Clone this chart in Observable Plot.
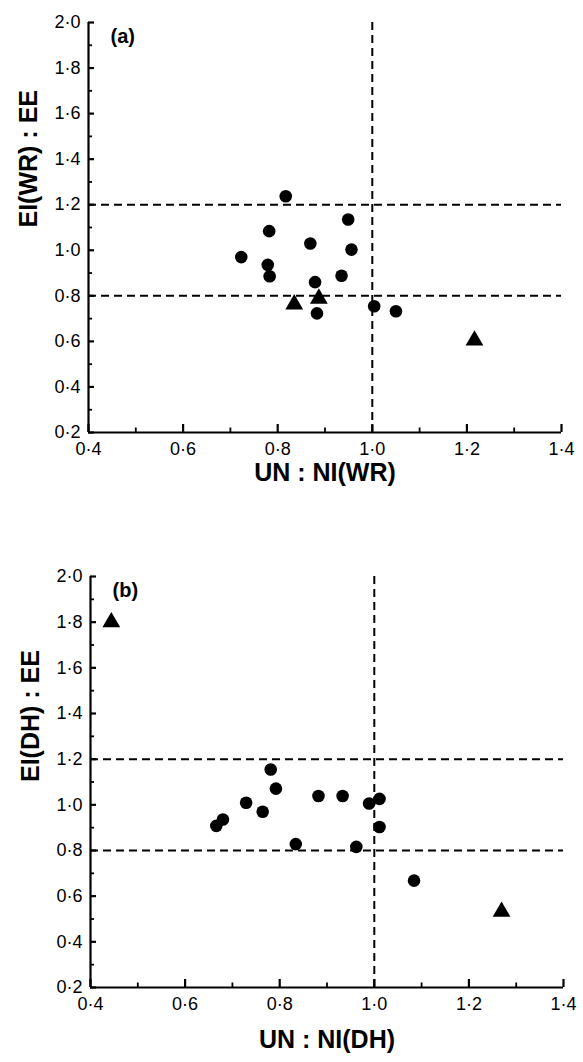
<!DOCTYPE html>
<html>
<head>
<meta charset="utf-8">
<script src="https://cdn.jsdelivr.net/npm/d3@7"></script>
<script src="https://cdn.jsdelivr.net/npm/@observablehq/plot@0.6"></script>
<style>
  body { margin: 0; background: #fff; }
  #chart { width: 583px; }
  #chart svg { display: block; }
</style>
</head>
<body>
<div id="chart"></div>
<script>
// Panel (a): UN:NI(WR) against EI(WR):EE
const wrCircleX = [0.817, 0.949, 0.782, 0.869, 0.956, 0.723, 0.779, 0.783, 0.935, 0.879, 0.883, 1.004, 1.050];
const wrCircleY = [1.237, 1.135, 1.084, 1.030, 1.003, 0.970, 0.936, 0.886, 0.888, 0.860, 0.723, 0.754, 0.732];
const wrTriangleX = [0.835, 0.887, 1.216];
const wrTriangleY = [0.763, 0.788, 0.604];

// Panel (b): UN:NI(DH) against EI(DH):EE
const dhCircleX = [0.781, 0.792, 0.729, 0.764, 0.680, 0.666, 0.882, 0.933, 0.989, 1.011, 1.011, 0.834, 0.962, 1.084];
const dhCircleY = [1.155, 1.071, 1.009, 0.970, 0.936, 0.908, 1.039, 1.039, 1.006, 1.026, 0.903, 0.828, 0.816, 0.668];
const dhTriangleX = [0.444, 1.269];
const dhTriangleY = [1.800, 0.532];

// Axes and reference lines
const xDomain = [0.4, 1.4];
const yDomain = [0.2, 2.0];
const xTicks = [0.4, 0.6, 0.8, 1.0, 1.2, 1.4];
const xMinorTicks = [0.5, 0.7, 0.9, 1.1, 1.3];
const yTicks = [0.2, 0.4, 0.6, 0.8, 1.0, 1.2, 1.4, 1.6, 1.8, 2.0];
const yMinorTicks = [0.3, 0.5, 0.7, 0.9, 1.1, 1.3, 1.5, 1.7, 1.9];
const refY = [0.8, 1.2];
const refX = [1.0];

const fmt = d => d.toFixed(1).replace(".", "·");
const font = "'Liberation Sans', Arial, Helvetica, sans-serif";

function points(xs, ys) {
  return xs.map((x, i) => ({x, y: ys[i]}));
}

function panel({circles, triangles, tag, xLabel, yLabel, marginLeft, marginRight, marginTop, marginBottom, height, tickPad, titleOffset}) {
  const innerW = 583 - marginLeft - marginRight;
  const innerH = height - marginTop - marginBottom;
  // short inward tick marks: full-frame ticks trimmed by insets
  const tickYMark = (values, len, w) => Plot.tickY(values, {y: d => d, insetRight: innerW - len, stroke: "#000", strokeWidth: w});
  const tickXMark = (values, len, w) => Plot.tickX(values, {x: d => d, insetTop: innerH - len, stroke: "#000", strokeWidth: w});
  return Plot.plot({
    width: 583,
    height,
    marginLeft,
    marginRight,
    marginTop,
    marginBottom,
    style: {fontFamily: font, fontSize: "18px", color: "#000", background: "#fff", overflow: "visible"},
    x: {domain: xDomain},
    y: {domain: yDomain},
    marks: [
      Plot.ruleY(refY, {stroke: "#000", strokeWidth: 2, strokeDasharray: "8,5"}),
      Plot.ruleX(refX, {stroke: "#000", strokeWidth: 2, strokeDasharray: "8,5"}),
      Plot.ruleX([xDomain[0]], {stroke: "#000", strokeWidth: 2.2}),
      Plot.ruleY([yDomain[0]], {stroke: "#000", strokeWidth: 2.2}),
      tickYMark(yTicks, 6, 2.2),
      tickYMark(yMinorTicks, 4, 1.8),
      tickXMark(xTicks, 8, 2.2),
      tickXMark(xMinorTicks, 4.5, 1.8),
      Plot.axisY({ticks: yTicks, tickSize: 0, tickPadding: 8, tickFormat: fmt, label: null, fontSize: 18}),
      Plot.axisX({ticks: xTicks, tickSize: 0, tickPadding: tickPad, tickFormat: fmt, label: null, fontSize: 18}),
      Plot.dot(points(circles[0], circles[1]), {x: "x", y: "y", r: 6.3, fill: "#000", stroke: null}),
      Plot.dot(points(triangles[0], triangles[1]), {x: "x", y: "y", r: 6.6, symbol: "triangle", fill: "#000", stroke: null}),
      Plot.text([tag], {frameAnchor: "top-left", dx: 22, dy: 6, textAnchor: "start", fontWeight: "bold", fontSize: 20}),
      Plot.text([xLabel], {frameAnchor: "bottom", dy: titleOffset, fontWeight: "bold", fontSize: 25}),
      Plot.text([yLabel], {frameAnchor: "left", dx: -60, rotate: -90, fontWeight: "bold", fontSize: 25})
    ]
  });
}

const chart = document.getElementById("chart");
chart.append(panel({
  circles: [wrCircleX, wrCircleY],
  triangles: [wrTriangleX, wrTriangleY],
  tag: "(a)",
  xLabel: "UN : NI(WR)",
  yLabel: "EI(WR) : EE",
  marginLeft: 88, marginRight: 22, marginTop: 22, marginBottom: 122, height: 554,
  tickPad: 10, titleOffset: 48
}));
chart.append(panel({
  circles: [dhCircleX, dhCircleY],
  triangles: [dhTriangleX, dhTriangleY],
  tag: "(b)",
  xLabel: "UN : NI(DH)",
  yLabel: "EI(DH) : EE",
  marginLeft: 90, marginRight: 20, marginTop: 22, marginBottom: 75, height: 508,
  tickPad: 10, titleOffset: 60
}));
</script>
</body>
</html>
